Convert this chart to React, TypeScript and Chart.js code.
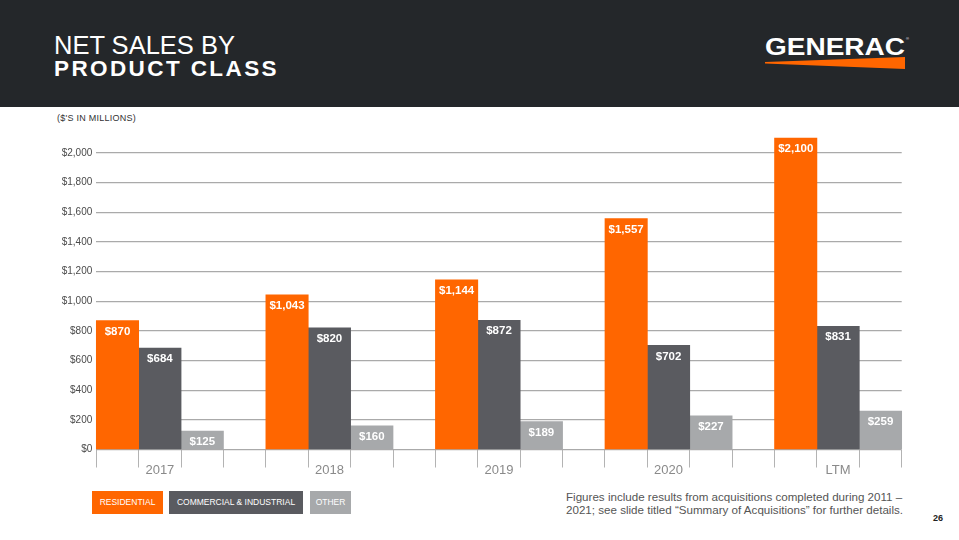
import React, { useEffect, useRef } from "react";
import { Chart, registerables } from "chart.js";

Chart.register(...registerables);

const years = ["2017", "2018", "2019", "2020", "LTM"];
const residential = [870, 1043, 1144, 1557, 2100];
const commercial = [684, 820, 872, 702, 831];
const other = [125, 160, 189, 227, 259];
const seriesNames = ["RESIDENTIAL", "COMMERCIAL & INDUSTRIAL", "OTHER"];
const seriesColors = ["#ff6600", "#5a5b60", "#a7a9ab"];
const yTicks = [0, 200, 400, 600, 800, 1000, 1200, 1400, 1600, 1800, 2000];

const FONT = '"Liberation Sans", Arial, Helvetica, sans-serif';

// each year occupies 4 slots: residential, commercial, other, gap (no gap after last)
const slotLabels: string[] = years.flatMap((y, i) =>
  i < years.length - 1 ? ["", y, "", ""] : ["", y, ""]
);
function toSlots(values: number[], offset: number): (number | null)[] {
  const arr: (number | null)[] = slotLabels.map(() => null);
  values.forEach((v, i) => {
    arr[i * 4 + offset] = v;
  });
  return arr;
}

const fmt = (v: number) => "$" + v.toLocaleString("en-US");

const valueLabelPlugin = {
  id: "valueLabels",
  afterDatasetsDraw(chart: any) {
    const ctx = chart.ctx;
    ctx.save();
    ctx.font = `bold 11.5px ${FONT}`;
    ctx.fillStyle = "#ffffff";
    ctx.textAlign = "center";
    ctx.textBaseline = "middle";
    chart.data.datasets.forEach((ds: any, di: number) => {
      const meta = chart.getDatasetMeta(di);
      meta.data.forEach((el: any, i: number) => {
        const v = ds.data[i];
        if (v === null || v === undefined) return;
        ctx.fillText(fmt(v), el.x, el.y + 11);
      });
    });
    ctx.restore();
  },
};

function ChartCanvas() {
  const ref = useRef<HTMLCanvasElement>(null);
  useEffect(() => {
    if (!ref.current) return;
    const chart = new Chart(ref.current, {
      type: "bar",
      data: {
        labels: slotLabels,
        datasets: [
          { label: seriesNames[0], data: toSlots(residential, 0), backgroundColor: seriesColors[0] },
          { label: seriesNames[1], data: toSlots(commercial, 1), backgroundColor: seriesColors[1] },
          { label: seriesNames[2], data: toSlots(other, 2), backgroundColor: seriesColors[2] },
        ].map((d) => ({
          ...d,
          grouped: false,
          barPercentage: 1,
          categoryPercentage: 1,
          borderWidth: 0,
          clip: false as any,
        })),
      },
      options: {
        animation: false,
        responsive: false,
        layout: { padding: { left: 0, right: 57.3, top: 23, bottom: 0 } },
        plugins: {
          legend: { display: false },
          tooltip: { enabled: false },
        },
        scales: {
          x: {
            type: "category",
            offset: true,
            grid: {
              offset: true,
              drawOnChartArea: false,
              drawTicks: true,
              tickLength: 18,
              color: "#b3b3b3",
              lineWidth: 1,
            },
            border: { display: false },
            ticks: {
              autoSkip: false,
              maxRotation: 0,
              minRotation: 0,
              padding: -5,
              color: "#8a8a8a",
              font: { family: FONT, size: 13 },
            },
            afterFit: (scale: any) => {
              scale.height = 30.5;
            },
          },
          y: {
            min: 0,
            max: 2000,
            afterBuildTicks: (scale: any) => {
              scale.ticks = yTicks.map((v) => ({ value: v }));
            },
            grid: {
              drawTicks: false,
              color: "#aaaaaa",
              lineWidth: 1.2,
            },
            border: { display: false },
            ticks: {
              padding: 4,
              color: "#4a4a4a",
              font: { family: FONT, size: 10 },
              callback: (v: any) => fmt(Number(v)),
            },
            afterFit: (scale: any) => {
              scale.width = 96.3;
            },
          },
        },
      },
      plugins: [valueLabelPlugin],
    });
    return () => chart.destroy();
  }, []);
  return (
    <canvas
      ref={ref}
      width={959}
      height={350}
      style={{ position: "absolute", left: 0, top: 130, width: 959, height: 350 }}
    />
  );
}

export default function App() {
  return (
    <div
      style={{
        position: "absolute",
        left: 0,
        top: 0,
        width: 959,
        height: 540,
        background: "#ffffff",
        overflow: "hidden",
        fontFamily: FONT,
      }}
    >
      {/* header */}
      <div style={{ position: "absolute", left: 0, top: 0, width: 959, height: 107, background: "#24272a" }} />
      <div
        style={{
          position: "absolute",
          left: 54,
          top: 33,
          color: "#ffffff",
          whiteSpace: "nowrap",
        }}
      >
        <div style={{ fontSize: 25.5, lineHeight: "24px", letterSpacing: 0 }}>NET SALES BY</div>
        <div
          style={{
            fontWeight: "bold",
            fontSize: 22.5,
            lineHeight: "22px",
            letterSpacing: 2.4,
            marginTop: 1,
          }}
        >
          PRODUCT CLASS
        </div>
      </div>
      {/* logo */}
      <svg
        style={{ position: "absolute", left: 760, top: 30, overflow: "visible" }}
        width={160}
        height={45}
        viewBox="760 30 160 45"
      >
        <text
          x={765}
          y={55}
          fill="#ffffff"
          fontFamily={FONT}
          fontWeight="bold"
          fontSize={23}
          textLength={140}
          lengthAdjust="spacingAndGlyphs"
        >
          GENERAC
        </text>
        <text x={906} y={40} fill="#ffffff" fontFamily={FONT} fontSize={4}>
          ®
        </text>
        <polygon points="765,62 905,57 905,69 765,63.4" fill="#ff6600" />
      </svg>
      <div
        style={{
          position: "absolute",
          left: 57,
          top: 113,
          fontSize: 9,
          color: "#333333",
          letterSpacing: 0.25,
          whiteSpace: "nowrap",
        }}
      >
        ($'S IN MILLIONS)
      </div>

      <ChartCanvas />

      {/* legend */}
      {seriesNames.map((name, i) => {
        const lefts = [92, 169, 310];
        const widths = [71, 134, 41];
        return (
          <div
            key={name}
            style={{
              position: "absolute",
              left: lefts[i],
              top: 491,
              width: widths[i],
              height: 23,
              background: seriesColors[i],
              color: "#ffffff",
              fontSize: 8.5,
              lineHeight: "23px",
              textAlign: "center",
              whiteSpace: "nowrap",
            }}
          >
            {name}
          </div>
        );
      })}

      {/* footnote */}
      <div
        style={{
          position: "absolute",
          left: 566,
          top: 491,
          fontSize: 11.6,
          lineHeight: "12.6px",
          color: "#555555",
          whiteSpace: "nowrap",
        }}
      >
        Figures include results from acquisitions completed during 2011 –
        <br />
        2021; see slide titled “Summary of Acquisitions” for further details.
      </div>
      <div
        style={{
          position: "absolute",
          left: 933,
          top: 513,
          fontSize: 9,
          fontWeight: "bold",
          color: "#222222",
        }}
      >
        26
      </div>
    </div>
  );
}
